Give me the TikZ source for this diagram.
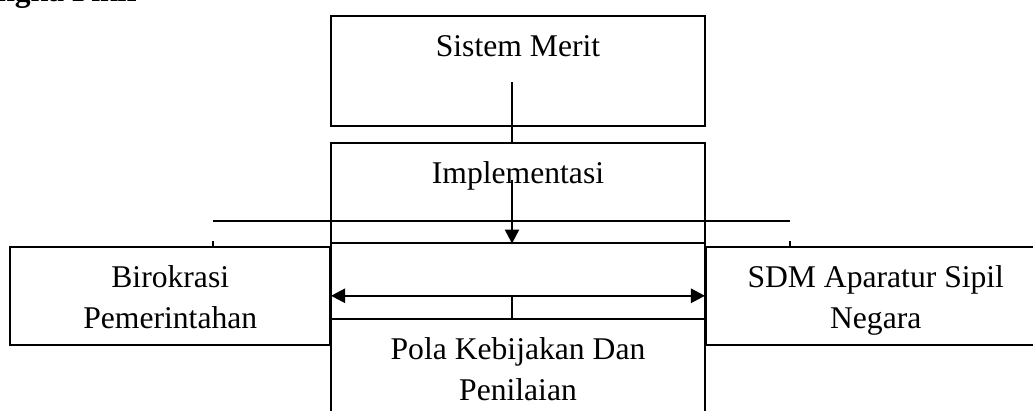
\documentclass[tikz,border=0pt]{standalone}
\usepackage{fontspec}
\setmainfont{Liberation Serif}
\usetikzlibrary{arrows.meta}

\begin{document}
\begin{tikzpicture}[x=0.02cm, y=-0.02cm,
  box/.style={draw, line width=0.9pt, inner sep=0pt, minimum width=7.48cm, align=center,
    font=\fontsize{18}{23.6}\selectfont},
  garis/.style={line width=0.8pt},
  panah/.style={line width=1.4pt, -{Triangle[length=8pt,width=8pt]}},
  panahdua/.style={line width=1.4pt, {Triangle[length=8pt,width=8pt]}-{Triangle[length=8pt,width=8pt]}}]
  \useasboundingbox (0,0) rectangle (1033,410);

  % Judul
  \node[anchor=base west, inner sep=0pt, font=\fontsize{18}{22}\selectfont\bfseries] (judul) at (-3,1) {ngka Pikir};

  % Kotak tengah
  \node[box, anchor=north, text height=0.82cm, text depth=1.38cm] (merit) at (518,15) {Sistem Merit};
  \node[box, anchor=north, text height=0.82cm, text depth=1.18cm] (impl) at (518,142) {Implementasi};
  \node[box, anchor=north, minimum height=1.52cm] (antara) at (518,242) {};
  \node[box, anchor=north, text height=1.64cm, text depth=0.76cm] (pola) at (518,318) {Pola Kebijakan Dan\\Penilaian};

  % Kotak samping
  \node[box, anchor=north east, minimum width=6.4cm, text height=1.64cm, text depth=0.32cm] (biro) at (331,246) {Birokrasi\\Pemerintahan};
  \node[box, anchor=north west, minimum width=6.8cm, text height=1.64cm, text depth=0.32cm] (sdm) at (705,246) {SDM Aparatur Sipil\\Negara};

  % Garis panjang
  \coordinate (gl) at (213,221);
  \coordinate (gr) at (790,221);
  \draw[garis] (gl) -- (gr);
  \draw[garis] (gl |- biro.north) -- ++(0,-5);
  \draw[garis] (gr |- sdm.north) -- ++(0,-5);

  % Panah
  \coordinate (m1) at (512,82);
  \coordinate (i1) at (512,180);
  \draw[line width=1.4pt] (m1) -- (m1 |- impl.north);
  \draw[panah] (i1) -- (i1 |- impl.south);
  \draw[panahdua] (biro.east) -- (sdm.west);
  \draw[line width=1.4pt] (i1 |- biro.east) -- (i1 |- pola.north);
\end{tikzpicture}
\end{document}
